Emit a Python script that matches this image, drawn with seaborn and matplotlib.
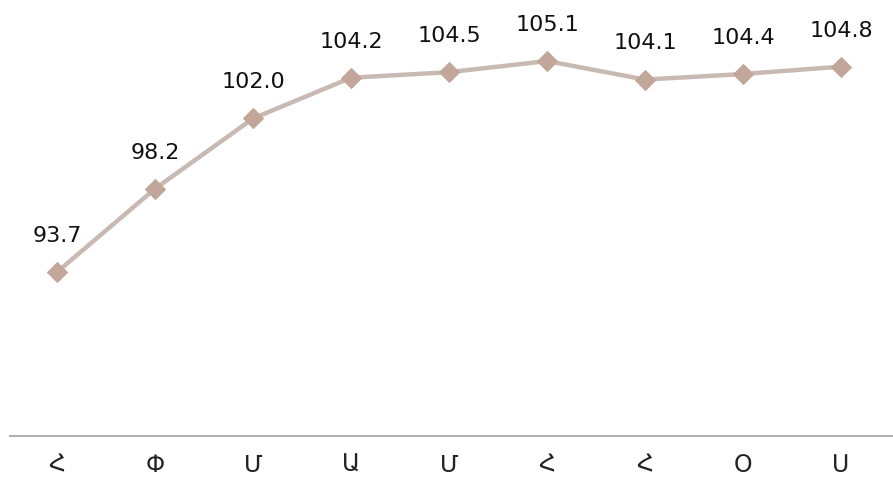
import matplotlib
matplotlib.use("Agg")
import matplotlib.pyplot as plt
import seaborn as sns
import numpy as np

# ամիսներ (առաջին տառը)
months = ["Հ", "Փ", "Մ", "Ա", "Մ", "Հ", "Հ", "Օ", "Ս"]
values = [93.7, 98.2, 102.0, 104.2, 104.5, 105.1, 104.1, 104.4, 104.8]

sns.set_style("white")
plt.rcParams["font.family"] = ["DejaVu Sans"]

fig = plt.figure(figsize=(8.93, 4.84), dpi=100)
ax = fig.add_axes([10 / 893, 48 / 484, 1 - 10 / 893, 1 - 48 / 484])

pos = np.arange(len(values))
sns.lineplot(x=pos, y=values, ax=ax, color="#c9b9b3", linewidth=3.2,
             marker="D", markersize=10, markerfacecolor="#c2a699",
             markeredgecolor="#c2a699")

for x, v in zip(pos, values):
    ax.annotate(f"{v:.1f}", (x, v), xytext=(0, 26), textcoords="offset points",
                ha="center", va="center", fontsize=16, color="#111111")

ax.set_xlim(-0.48, 8.53)
ax.set_ylim(84.84, 108.4)
ax.set_xticks(pos)
ax.set_xticklabels(months, fontsize=17, color="#222222")
ax.tick_params(axis="x", length=0, pad=12)
ax.set_yticks([])

for s in ["top", "right", "left"]:
    ax.spines[s].set_visible(False)
ax.spines["bottom"].set_color("#a8a8a8")
ax.spines["bottom"].set_linewidth(1.3)

fig.savefig("out.png", dpi=100)
